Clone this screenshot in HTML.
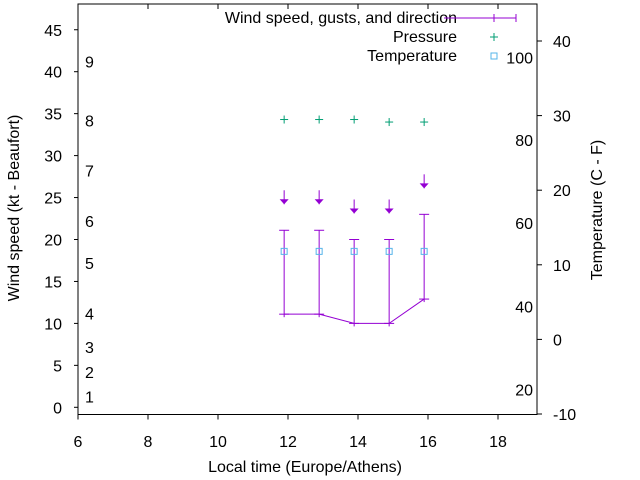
<!DOCTYPE html>
<html><head><meta charset="utf-8"><style>
html,body{margin:0;padding:0;background:#fff}
svg{display:block;font-family:"Liberation Sans",Arial,sans-serif}
</style></head><body>
<svg id="chart" width="640" height="480" viewBox="0 0 640 480"></svg>
<script>
const times = [11.89, 12.89, 13.89, 14.89, 15.89];
const windSpeed = [11.1, 11.1, 10.0, 10.0, 12.9];
const gustSpeed = [21.1, 21.1, 20.0, 20.0, 23.0];
const arrowLevel = [24.2, 24.2, 23.1, 23.1, 26.1];
const pressurePlot = [34.3, 34.3, 34.3, 34.0, 34.0];
const temperature = [11.8, 11.8, 11.8, 11.8, 11.8];
const xTicks = [6, 8, 10, 12, 14, 16, 18];
const yTicks = [0, 5, 10, 15, 20, 25, 30, 35, 40, 45];
const y2Ticks = [-10, 0, 10, 20, 30, 40];
const beaufortLabels = [[1,1.3],[2,4.2],[3,7.2],[4,11.2],[5,17.2],[6,22.2],[7,28.2],[8,34.2],[9,41.2]];
const fahrenheitLabels = [[20,-6.7],[40,4.4],[60,15.6],[80,26.7],[100,37.8]];

const L=78,R=537,T=4,B=414.5;
const FS=16;
const X=v=>L+(v-6)*35;
const Y=v=>407.3-v*8.39;
const Y2=v=>414-(v+10)*7.46;
const svg=document.getElementById('chart');
const NS='http://www.w3.org/2000/svg';
function mk(tag,attrs,parent){const e=document.createElementNS(NS,tag);for(const k in attrs)e.setAttribute(k,attrs[k]);(parent||svg).appendChild(e);return e;}
function txt(s,x,y,anchor,extra){const t=mk('text',Object.assign({x:x,y:y,'font-size':FS,'text-anchor':anchor||'start',fill:'#000'},extra||{}));t.textContent=s;return t;}

const frame=mk('rect',{x:L,y:T,width:R-L,height:B-T,fill:'none',stroke:'#000','stroke-width':1});



xTicks.forEach(v=>{
  const g=mk('g',{});
  
  
  mk('line',{x1:X(v),x2:X(v),y1:B,y2:B+5,stroke:'#000'},g);
  mk('line',{x1:X(v),x2:X(v),y1:T,y2:T+5,stroke:'#000'},g);
  const t=txt(String(v),X(v),447,'middle');g.appendChild(t);
});
yTicks.forEach(v=>{
  const g=mk('g',{});
  
  
  mk('line',{x1:L-4,x2:L,y1:Y(v),y2:Y(v),stroke:'#000'},g);
  const t=txt(String(v),62,Y(v)+6,'end');g.appendChild(t);
});
y2Ticks.forEach(v=>{
  const g=mk('g',{});
  
  
  mk('line',{x1:R,x2:R+5,y1:Y2(v),y2:Y2(v),stroke:'#000'},g);
  const t=txt(String(v),553,Y2(v)+6,'start');g.appendChild(t);
});
beaufortLabels.forEach(([lab,v])=>{
  const t=txt(String(lab),85,Y(v)+6,'start');
  
  
});
fahrenheitLabels.forEach(([lab,v])=>{
  const t=txt(String(lab),533,Y2(v)+6,'end');
  
  
});

let t=txt('Local time (Europe/Athens)',305,472,'middle');


t=txt('Wind speed (kt - Beaufort)',0,0,'middle',{transform:'translate(19,208) rotate(-90)'});


t=txt('Temperature (C - F)',0,0,'middle',{transform:'translate(602,210) rotate(-90)'});



const P='#9400d3';
const pts=times.map((d,i)=>X(d)+','+Y(windSpeed[i])).join(' ');
const pl=mk('polyline',{points:pts,fill:'none',stroke:P,'stroke-width':1});


times.forEach((d,i)=>{
  const x=X(d);
  const g=mk('g',{stroke:P,'stroke-width':1});
  
  
  mk('line',{x1:x,x2:x,y1:Y(gustSpeed[i]),y2:Y(windSpeed[i])+3},g);
  mk('line',{x1:x-5,x2:x+5,y1:Y(gustSpeed[i]),y2:Y(gustSpeed[i])},g);
  mk('line',{x1:x-5,x2:x+5,y1:Y(windSpeed[i]),y2:Y(windSpeed[i])},g);
  const a=mk('g',{});
  
  
  const tip=Y(arrowLevel[i]);
  mk('line',{x1:x,x2:x,y1:tip-14,y2:tip,stroke:P},a);
  mk('polygon',{points:(x-4.5)+','+(tip-5)+' '+(x+4.5)+','+(tip-5)+' '+x+','+tip,fill:P},a);
  const pp=mk('g',{stroke:'#009e73','stroke-width':1});
  
  
  const py=Y(pressurePlot[i]);
  mk('line',{x1:x-4,x2:x+4,y1:py,y2:py},pp);
  mk('line',{x1:x,x2:x,y1:py-4,y2:py+4},pp);
  const tp=mk('rect',{x:x-3,y:Y2(temperature[i])-3,width:6,height:6,fill:'none',stroke:'#56b4e9'});
  
  
});

const lg=mk('g',{});


lg.appendChild(txt('Wind speed, gusts, and direction',457,23,'end'));
lg.appendChild(txt('Pressure',457,42,'end'));
lg.appendChild(txt('Temperature',457,61,'end'));
mk('line',{x1:444,x2:516,y1:18,y2:18,stroke:P},lg);
mk('line',{x1:494,x2:494,y1:14,y2:22,stroke:P},lg);
mk('line',{x1:516,x2:516,y1:14,y2:22,stroke:P},lg);
mk('line',{x1:490,x2:498,y1:37,y2:37,stroke:'#009e73'},lg);
mk('line',{x1:494,x2:494,y1:33,y2:41,stroke:'#009e73'},lg);
mk('rect',{x:491,y:53,width:6,height:6,fill:'none',stroke:'#56b4e9'},lg);
</script>
</body></html>
